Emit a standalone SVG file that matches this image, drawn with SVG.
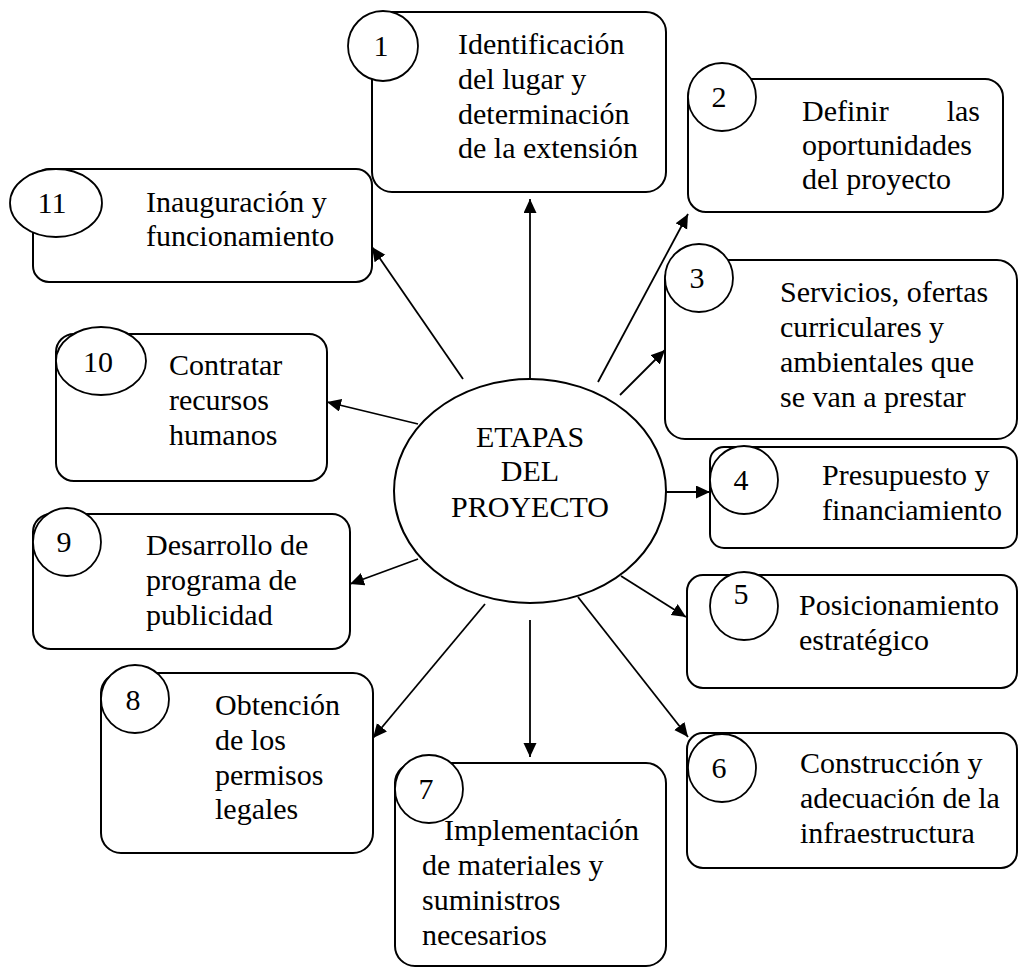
<svg xmlns="http://www.w3.org/2000/svg" width="1019" height="968" viewBox="0 0 1019 968">
<style>
.box{fill:#fff;stroke:#000;stroke-width:2}
.num{fill:#fff;stroke:#000;stroke-width:1.8}
.t{font-family:"Liberation Serif","Times New Roman",serif;font-size:30px;fill:#000}
.n{font-family:"Liberation Serif","Times New Roman",serif;font-size:30px;fill:#000;text-anchor:middle}
.c{text-anchor:middle}
.ln{stroke:#000;stroke-width:1.8;fill:none;marker-end:url(#ah)}
</style>
<defs>
<marker id="ah" markerUnits="userSpaceOnUse" markerWidth="15" markerHeight="14" refX="14" refY="6.5" orient="auto">
<path d="M0,0 L14,6.5 L0,13 z" fill="#000"/>
</marker>
</defs>
<rect width="1019" height="968" fill="#fff"/>
<g id="connectors">
<line class="ln" x1="530" y1="379" x2="530" y2="199"/>
<line class="ln" x1="598" y1="382" x2="688" y2="214"/>
<line class="ln" x1="620" y1="395" x2="665" y2="350"/>
<line class="ln" x1="666" y1="492" x2="710" y2="492"/>
<line class="ln" x1="621" y1="576" x2="686" y2="617"/>
<line class="ln" x1="578" y1="597" x2="688" y2="737"/>
<line class="ln" x1="530" y1="620" x2="530" y2="757"/>
<line class="ln" x1="485" y1="604" x2="373" y2="738"/>
<line class="ln" x1="418" y1="559" x2="350" y2="584"/>
<line class="ln" x1="418" y1="424" x2="327" y2="402"/>
<line class="ln" x1="463" y1="379" x2="372" y2="247"/>
</g>
<g id="center">
<ellipse class="box" cx="530" cy="491" rx="136" ry="112"/>
<text class="t c" x="530" y="447">ETAPAS</text>
<text class="t c" x="530" y="481">DEL</text>
<text class="t c" x="530" y="517">PROYECTO</text>
</g>
<g id="node1">
<rect class="box" x="372" y="12" width="294" height="180" rx="20"/>
<circle class="num" cx="383" cy="46" r="35"/>
<text class="n" x="381" y="56">1</text>
<text class="t" x="458" y="54">Identificación</text>
<text class="t" x="458" y="89">del lugar y</text>
<text class="t" x="458" y="124">determinación</text>
<text class="t" x="458" y="158">de la extensión</text>
</g>
<g id="node2">
<rect class="box" x="688" y="79" width="315" height="133" rx="18"/>
<circle class="num" cx="722" cy="97" r="34"/>
<text class="n" x="719" y="107">2</text>
<text class="t" x="802" y="121">Definir</text>
<text class="t" x="980" y="121" text-anchor="end">las</text>
<text class="t" x="802" y="155">oportunidades</text>
<text class="t" x="802" y="189">del proyecto</text>
</g>
<g id="node3">
<rect class="box" x="665" y="260" width="352" height="179" rx="20"/>
<circle class="num" cx="699" cy="278" r="34"/>
<text class="n" x="697" y="288">3</text>
<text class="t" x="780" y="302">Servicios, ofertas</text>
<text class="t" x="780" y="337">curriculares y</text>
<text class="t" x="780" y="372">ambientales que</text>
<text class="t" x="780" y="407">se van a prestar</text>
</g>
<g id="node4">
<rect class="box" x="710" y="447" width="307" height="101" rx="14"/>
<circle class="num" cx="744" cy="480" r="34"/>
<text class="n" x="741" y="490">4</text>
<text class="t" x="822" y="485">Presupuesto y</text>
<text class="t" x="822" y="520">financiamiento</text>
</g>
<g id="node5">
<rect class="box" x="687" y="575" width="330" height="113" rx="16"/>
<circle class="num" cx="744" cy="606" r="34"/>
<text class="n" x="741" y="604">5</text>
<text class="t" x="799" y="615">Posicionamiento</text>
<text class="t" x="799" y="650">estratégico</text>
</g>
<g id="node6">
<rect class="box" x="687" y="733" width="330" height="135" rx="16"/>
<circle class="num" cx="722" cy="768" r="34"/>
<text class="n" x="719" y="778">6</text>
<text class="t" x="800" y="773">Construcción y</text>
<text class="t" x="800" y="808">adecuación de la</text>
<text class="t" x="800" y="843">infraestructura</text>
</g>
<g id="node7">
<rect class="box" x="395" y="763" width="271" height="203" rx="20"/>
<circle class="num" cx="429" cy="789" r="34"/>
<text class="n" x="426" y="799">7</text>
<text class="t" x="444" y="840">Implementación</text>
<text class="t" x="422" y="875">de materiales y</text>
<text class="t" x="422" y="910">suministros</text>
<text class="t" x="422" y="945">necesarios</text>
</g>
<g id="node8">
<rect class="box" x="101" y="673" width="272" height="180" rx="20"/>
<circle class="num" cx="135" cy="699" r="34"/>
<text class="n" x="133" y="710">8</text>
<text class="t" x="215" y="715">Obtención</text>
<text class="t" x="215" y="750">de los</text>
<text class="t" x="215" y="785">permisos</text>
<text class="t" x="215" y="819">legales</text>
</g>
<g id="node9">
<rect class="box" x="33" y="514" width="317" height="135" rx="18"/>
<circle class="num" cx="67" cy="542" r="34"/>
<text class="n" x="64" y="552">9</text>
<text class="t" x="146" y="555">Desarrollo de</text>
<text class="t" x="146" y="590">programa de</text>
<text class="t" x="146" y="625">publicidad</text>
</g>
<g id="node10">
<rect class="box" x="56" y="334" width="271" height="147" rx="18"/>
<ellipse class="num" cx="101" cy="361" rx="45" ry="34"/>
<text class="n" x="98" y="372">10</text>
<text class="t" x="169" y="375">Contratar</text>
<text class="t" x="169" y="410">recursos</text>
<text class="t" x="169" y="445">humanos</text>
</g>
<g id="node11">
<rect class="box" x="33" y="169" width="339" height="113" rx="16"/>
<ellipse class="num" cx="56" cy="203" rx="46" ry="34"/>
<text class="n" x="52" y="213">11</text>
<text class="t" x="146" y="212">Inauguración y</text>
<text class="t" x="146" y="246">funcionamiento</text>
</g>
</svg>
